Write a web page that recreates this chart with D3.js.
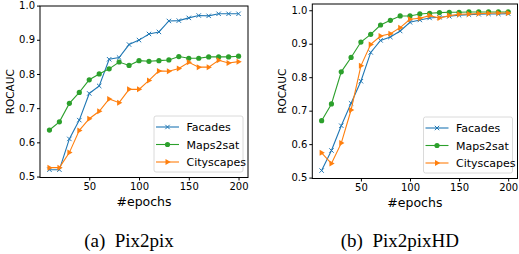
<!DOCTYPE html>
<html lang="en">
<head>
<meta charset="UTF-8">
<title>ROCAUC vs epochs</title>
<style>
  body { margin: 0; background: #fff; }
  svg { display: block; }
  .tick text { font-family: "DejaVu Sans", sans-serif; font-size: 10px; fill: #000; }
  .tick line, .domain { stroke: #000; }
  .ylab { font-family: "DejaVu Sans", sans-serif; font-size: 10.5px; }
  .xlab { font-family: "DejaVu Sans", sans-serif; font-size: 12.5px; }
  .leg text { font-family: "DejaVu Sans", sans-serif; font-size: 11px; }
  .caption { font-family: "Liberation Serif", "Times New Roman", serif; font-size: 19px; }
</style>
</head>
<body>
<div id="chart"></div>
<script src="https://cdnjs.cloudflare.com/ajax/libs/d3/7.8.5/d3.min.js"></script>
<script>
// data
var epochs = [10, 20, 30, 40, 50, 60, 70, 80, 90, 100, 110, 120, 130, 140, 150, 160, 170, 180, 190, 200];
var seriesNames = ["Facades", "Maps2sat", "Cityscapes"];
var yTicks = [0.5, 0.6, 0.7, 0.8, 0.9, 1.0];
var xTicks = [50, 100, 150, 200];
var captions = ["(a)  Pix2pix", "(b)  Pix2pixHD"];

// Pix2pix
var p2pFacades = [0.520, 0.520, 0.610, 0.665, 0.743, 0.765, 0.843, 0.848, 0.886, 0.899, 0.917, 0.923, 0.955, 0.956, 0.964, 0.971, 0.970, 0.976, 0.976, 0.976];
var p2pMaps = [0.636, 0.660, 0.714, 0.746, 0.783, 0.800, 0.815, 0.835, 0.825, 0.839, 0.837, 0.839, 0.841, 0.851, 0.846, 0.846, 0.850, 0.850, 0.850, 0.852];
var p2pCity = [0.526, 0.526, 0.570, 0.635, 0.669, 0.691, 0.727, 0.716, 0.755, 0.755, 0.781, 0.809, 0.808, 0.816, 0.834, 0.820, 0.820, 0.840, 0.832, 0.836];

// Pix2pixHD
var hdFacades = [0.521, 0.581, 0.655, 0.722, 0.788, 0.874, 0.910, 0.920, 0.938, 0.964, 0.971, 0.977, 0.979, 0.982, 0.985, 0.987, 0.988, 0.989, 0.989, 0.990];
var hdMaps = [0.670, 0.720, 0.816, 0.859, 0.905, 0.928, 0.956, 0.970, 0.983, 0.983, 0.989, 0.991, 0.993, 0.994, 0.994, 0.995, 0.995, 0.995, 0.995, 0.995];
var hdCity = [0.574, 0.542, 0.603, 0.702, 0.834, 0.898, 0.923, 0.930, 0.948, 0.973, 0.976, 0.984, 0.977, 0.984, 0.988, 0.989, 0.990, 0.991, 0.992, 0.992];

var colors = ["#1f77b4", "#2ca02c", "#ff7f0e"];
var markers = ["x", "circle", "tri"];

var svg = d3.select("#chart").append("svg").
attr("width", 519).
attr("height", 254);

// matplotlib style autoscale with 5% margins
function padded(ext) {
  var m = (ext[1] - ext[0]) * 0.05;
  return [ext[0] - m, ext[1] + m];
}

function drawMarker(g, type, color) {
  if (type == "x") {
    g.append("path").attr("d", "M-2.2,-2.2L2.2,2.2M-2.2,2.2L2.2,-2.2").
    attr("stroke", color).attr("stroke-width", 1).attr("fill", "none");
  } else if (type == "circle") {
    g.append("circle").attr("r", 2.6).attr("fill", color);
  } else {
    g.append("path").attr("d", "M3.2,0L-2,-3L-2,3Z").attr("fill", color);
  }
}

function panel(box, series, caption) {
  var all = [].concat.apply([], series);
  var x = d3.scaleLinear().domain(padded(d3.extent(epochs))).range([box.left, box.right]);
  var y = d3.scaleLinear().domain(padded(d3.extent(all))).range([box.bottom, box.top]);

  var g = svg.append("g");

  // series
  series.forEach(function (vals, i) {
    var line = d3.line().
    x(function (d, j) {return x(epochs[j]);}).
    y(function (d) {return y(d);});
    g.append("path").
    datum(vals).
    attr("d", line).
    attr("fill", "none").
    attr("stroke", colors[i]).
    attr("stroke-width", 1.1);
    vals.forEach(function (v, j) {
      var m = g.append("g").attr("transform", "translate(" + x(epochs[j]) + "," + y(v) + ")");
      drawMarker(m, markers[i], colors[i]);
    });
  });

  // frame
  g.append("rect").
  attr("x", box.left).attr("y", box.top).
  attr("width", box.right - box.left).attr("height", box.bottom - box.top).
  attr("fill", "none").attr("stroke", "#000").attr("stroke-width", 1);

  g.append("g").
  attr("transform", "translate(0," + box.bottom + ")").
  call(d3.axisBottom(x).tickValues(xTicks).tickSize(3).tickPadding(2).tickFormat(d3.format("d"))).
  select(".domain").remove();

  g.append("g").
  attr("transform", "translate(" + box.left + ",0)").
  call(d3.axisLeft(y).tickValues(yTicks).tickSize(3).tickPadding(2).tickFormat(d3.format(".1f"))).
  select(".domain").remove();

  g.selectAll(".tick text").attr("font-family", null).attr("font-size", null);

  g.append("text").
  attr("class", "ylab").
  attr("transform", "translate(" + (box.left - 26) + "," + (box.top + box.bottom) / 2 + ") rotate(-90)").
  attr("text-anchor", "middle").
  text("ROCAUC");

  g.append("text").
  attr("class", "xlab").
  attr("x", (box.left + box.right) / 2).
  attr("y", box.bottom + 28.5).
  attr("text-anchor", "middle").
  text("#epochs");

  // legend, lower right
  var lw = 89, lh = 56;
  var lx = box.right - 5 - lw, ly = box.bottom - 5.5 - lh;
  var leg = g.append("g").attr("class", "leg").attr("transform", "translate(" + lx + "," + ly + ")");
  leg.append("rect").
  attr("width", lw).attr("height", lh).attr("rx", 2).
  attr("fill", "#fff").attr("fill-opacity", 0.8).
  attr("stroke", "#d0d0d0").attr("stroke-width", 0.8);
  seriesNames.forEach(function (name, i) {
    var cy = 11 + i * 17.5;
    leg.append("line").
    attr("x1", 2).attr("x2", 25).attr("y1", cy).attr("y2", cy).
    attr("stroke", colors[i]).attr("stroke-width", 1.1);
    var m = leg.append("g").attr("transform", "translate(13.5," + cy + ")");
    drawMarker(m, markers[i], colors[i]);
    leg.append("text").
    attr("x", 32.5).attr("y", cy + 4).
    text(name);
  });

  svg.append("text").
  attr("class", "caption").
  attr("x", (box.left + box.right) / 2 - 15).
  attr("y", 246.5).
  attr("text-anchor", "middle").
  attr("xml:space", "preserve").
  text(caption);
}

panel({left: 40, right: 248, top: 6, bottom: 177.5}, [p2pFacades, p2pMaps, p2pCity], captions[0]);
panel({left: 312.3, right: 517.5, top: 4, bottom: 178.5}, [hdFacades, hdMaps, hdCity], captions[1]);
</script>
</body>
</html>
